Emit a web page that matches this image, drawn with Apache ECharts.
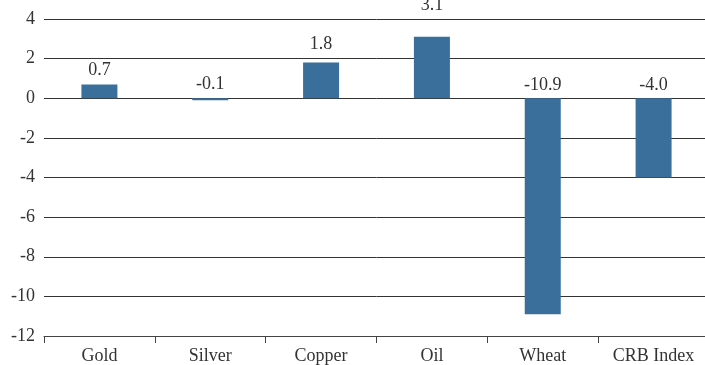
<!DOCTYPE html>
<html>
<head>
<meta charset="utf-8">
<script src="https://cdn.jsdelivr.net/npm/echarts@6/dist/echarts.min.js"></script>
<style>
  html, body { margin: 0; padding: 0; background: #fff; overflow: hidden; }
  #chart { width: 720px; height: 365px; }
</style>
</head>
<body>
<div id="chart"></div>
<script>
// Commodity price changes
const categories = ['Gold', 'Silver', 'Copper', 'Oil', 'Wheat', 'CRB Index'];
const changes = [0.7, -0.1, 1.8, 3.1, -10.9, -4.0];

// Gap (px) between each bar end and its value label
const labelGap = [5, 5, 9, 23, 4, 4];

const FONT = '"Liberation Serif", "DejaVu Serif", serif';

const chart = echarts.init(document.getElementById('chart'));
chart.setOption({
  animation: false,
  grid: { left: 44, width: 665, top: 19, bottom: 28, containLabel: false },
  xAxis: {
    type: 'category',
    data: categories,
    axisLine: { onZero: false, lineStyle: { color: '#444', width: 1 } },
    axisTick: { show: true, length: 7, lineStyle: { color: '#444' } },
    axisLabel: { color: '#333', fontFamily: FONT, fontSize: 18, margin: 11 }
  },
  yAxis: {
    type: 'value',
    min: -12,
    max: 4,
    interval: 2,
    axisLine: { show: false },
    axisTick: { show: false },
    axisLabel: { color: '#333', fontFamily: FONT, fontSize: 18, margin: 9 },
    splitLine: { lineStyle: { color: '#333', width: 1 } }
  },
  series: [{
    type: 'bar',
    data: changes.map((v, i) => ({
      value: v,
      label: { distance: labelGap[i] }
    })),
    barWidth: 36,
    itemStyle: { color: '#3a6f9c' },
    label: {
      show: true,
      position: 'top',
      color: '#333',
      fontFamily: FONT,
      fontSize: 18,
      formatter: p => p.value.toFixed(1)
    }
  }]
});
</script>
</body>
</html>
